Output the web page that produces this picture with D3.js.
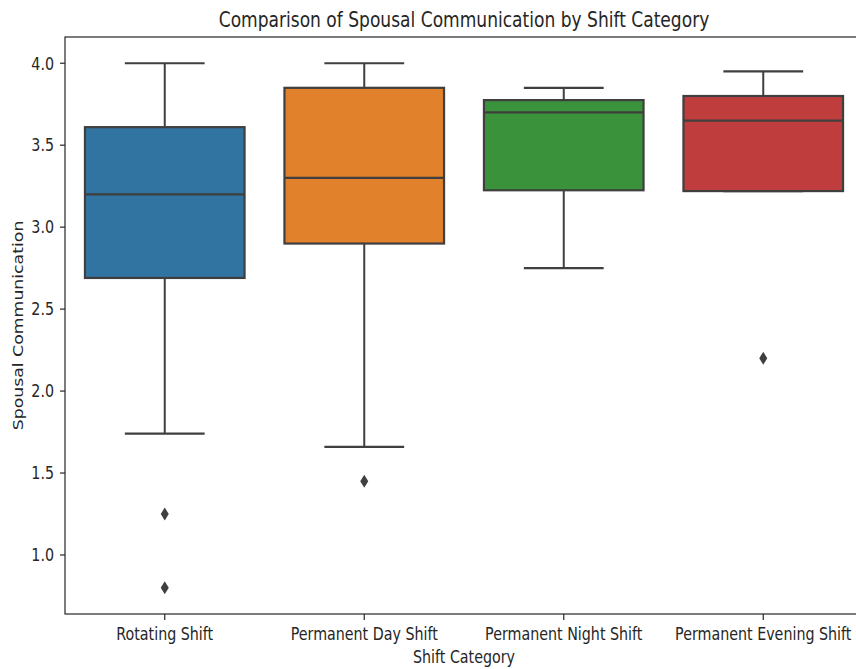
<!DOCTYPE html>
<html>
<head>
<meta charset="utf-8">
<script src="https://cdn.jsdelivr.net/npm/d3@7"></script>
<style>
  html, body { margin: 0; padding: 0; background: #fff; }
  svg { display: block; }
  text { font-family: "DejaVu Sans", sans-serif; fill: #262626; }
</style>
</head>
<body>
<svg id="chart" width="856" height="669"></svg>
<script>
// Box summaries per shift category
const categories = ["Rotating Shift", "Permanent Day Shift", "Permanent Night Shift", "Permanent Evening Shift"];
const whiskerLow  = [1.74, 1.66, 2.75, 3.22];
const quartile1   = [2.69, 2.90, 3.225, 3.22];
const medians     = [3.20, 3.30, 3.70, 3.65];
const quartile3   = [3.61, 3.85, 3.775, 3.80];
const whiskerHigh = [4.00, 4.00, 3.85, 3.95];
const outliers    = [[1.25, 0.80], [1.45], [], [2.20]];
const colors      = ["#3274a1", "#e1812c", "#3a923a", "#c03d3e"];
const yTicks      = [1.0, 1.5, 2.0, 2.5, 3.0, 3.5, 4.0];

const SX = 0.825;         // horizontal text compression
const lineColor = "#3f3f3f";
const plotLeft = 65, plotRight = 863, plotTop = 37, plotBottom = 614;

const svg = d3.select("#chart");

const x = d3.scaleBand().domain(categories).range([plotLeft, plotRight]).padding(0);
const y = d3.scaleLinear().domain([0.64, 4.16]).range([plotBottom, plotTop]);
const bw = x.bandwidth() * 0.8;

const rows = categories.map((c, i) => ({
  c, lo: whiskerLow[i], q1: quartile1[i], med: medians[i], q3: quartile3[i],
  hi: whiskerHigh[i], out: outliers[i], color: colors[i]
}));

const g = svg.append("g");

rows.forEach(d => {
  const cx = x(d.c) + x.bandwidth() / 2;
  const bg = g.append("g");
  // whiskers
  bg.append("line").attr("x1", cx).attr("x2", cx).attr("y1", y(d.q1)).attr("y2", y(d.lo))
    .attr("stroke", lineColor).attr("stroke-width", 2);
  bg.append("line").attr("x1", cx).attr("x2", cx).attr("y1", y(d.q3)).attr("y2", y(d.hi))
    .attr("stroke", lineColor).attr("stroke-width", 2);
  // caps
  [d.lo, d.hi].forEach(v => {
    bg.append("line").attr("x1", cx - bw / 4).attr("x2", cx + bw / 4)
      .attr("y1", y(v)).attr("y2", y(v))
      .attr("stroke", lineColor).attr("stroke-width", 2.2);
  });
  // box
  bg.append("rect").attr("x", cx - bw / 2).attr("width", bw)
    .attr("y", y(d.q3)).attr("height", y(d.q1) - y(d.q3))
    .attr("fill", d.color).attr("stroke", lineColor).attr("stroke-width", 2.2);
  // median
  bg.append("line").attr("x1", cx - bw / 2).attr("x2", cx + bw / 2)
    .attr("y1", y(d.med)).attr("y2", y(d.med))
    .attr("stroke", lineColor).attr("stroke-width", 2.2);
  // outliers (thin diamonds)
  d.out.forEach(v => {
    const py = y(v);
    bg.append("path")
      .attr("d", `M${cx},${py - 6.5}L${cx + 4},${py}L${cx},${py + 6.5}L${cx - 4},${py}Z`)
      .attr("fill", lineColor);
  });
});

// spines
const spine = svg.append("g").attr("stroke", "#262626").attr("stroke-width", 1.2).attr("fill", "none");
spine.append("rect").attr("x", plotLeft).attr("y", plotTop)
  .attr("width", plotRight - plotLeft).attr("height", plotBottom - plotTop);

// y axis ticks and labels
yTicks.forEach(t => {
  svg.append("line").attr("x1", plotLeft - 5).attr("x2", plotLeft).attr("y1", y(t)).attr("y2", y(t))
    .attr("stroke", "#262626").attr("stroke-width", 1.2);
  svg.append("text")
    .attr("transform", `translate(${plotLeft - 11},${y(t) + 6.3}) scale(${SX},1)`)
    .attr("text-anchor", "end").attr("font-size", 17.3)
    .text(t.toFixed(1));
});

// x axis ticks and labels
categories.forEach(c => {
  const cx = x(c) + x.bandwidth() / 2;
  svg.append("line").attr("x1", cx).attr("x2", cx).attr("y1", plotBottom).attr("y2", plotBottom + 6)
    .attr("stroke", "#262626").attr("stroke-width", 1.2);
  svg.append("text")
    .attr("transform", `translate(${cx},640) scale(${SX},1)`)
    .attr("text-anchor", "middle").attr("font-size", 17.3)
    .text(c);
});

// axis titles
svg.append("text")
  .attr("transform", `translate(${(plotLeft + plotRight) / 2},663) scale(${SX},1)`)
  .attr("text-anchor", "middle").attr("font-size", 17.3)
  .text("Shift Category");

svg.append("text")
  .attr("transform", `translate(22.5,${(plotTop + plotBottom) / 2}) scale(0.8,1) rotate(-90)`)
  .attr("text-anchor", "middle").attr("font-size", 17.3)
  .text("Spousal Communication");

svg.append("text")
  .attr("transform", `translate(${(plotLeft + plotRight) / 2},26.5) scale(${SX},1)`)
  .attr("text-anchor", "middle").attr("font-size", 20.7)
  .text("Comparison of Spousal Communication by Shift Category");
</script>
</body>
</html>
